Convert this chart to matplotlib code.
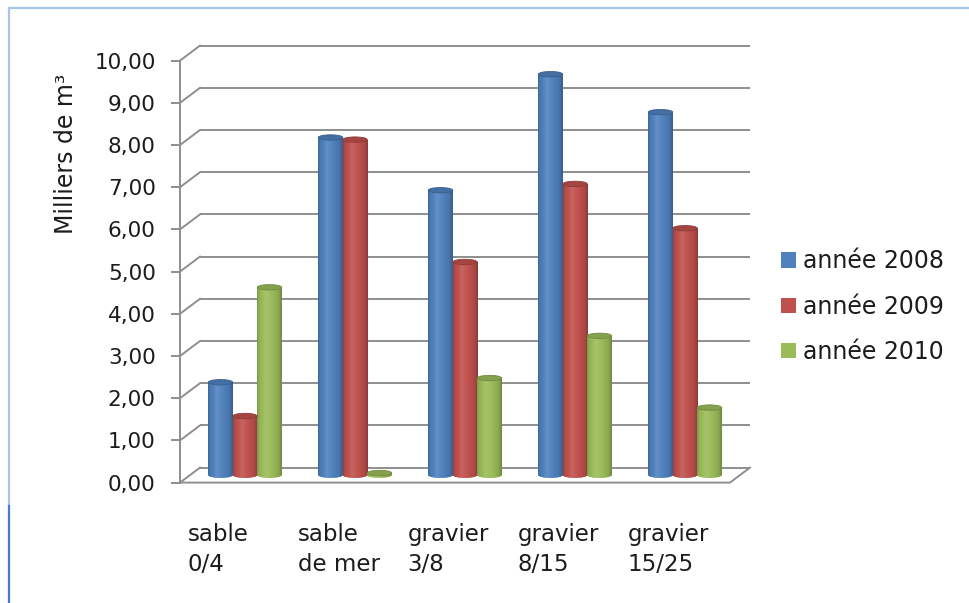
import numpy as np
import matplotlib
matplotlib.use("Agg")
import matplotlib.pyplot as plt
from matplotlib.patches import Ellipse, Patch
from matplotlib.lines import Line2D
from matplotlib.colors import to_rgb
from matplotlib.ticker import FuncFormatter
from matplotlib import transforms

# ---- data -------------------------------------------------------------
categories = ["sable\n0/4", "sable\nde mer", "gravier\n3/8", "gravier\n8/15", "gravier\n15/25"]
series_names = ["année 2008", "année 2009", "année 2010"]
values_2008 = [2.2, 8.0, 6.75, 9.5, 8.6]
values_2009 = [1.4, 7.95, 5.05, 6.9, 5.85]
values_2010 = [4.45, 0.05, 2.3, 3.3, 1.6]
y_ticks = [0, 1, 2, 3, 4, 5, 6, 7, 8, 9, 10]
y_label = "Milliers de m³"

series_values = [values_2008, values_2009, values_2010]
series_colors = ["#4F81BD", "#C0504D", "#9BBB59"]

# ---- figure / layout (pixel geometry of the pseudo-3D box) ------------
W, H, DPI = 970, 603, 100
fig = plt.figure(figsize=(W / DPI, H / DPI), dpi=DPI)
fig.patch.set_facecolor("white")

X0_PX, X_SCALE = 180.0, 110.0     # front-left corner, pixels per category
Y0_PX, Y_SCALE = 482.6, 42.2      # floor line, pixels per unit
xlim = (-0.05, 5.25)
ylim = (-0.1, 10.5)
ax_left = (X0_PX + xlim[0] * X_SCALE) / W
ax_bottom = (H - (Y0_PX - ylim[0] * Y_SCALE)) / H
ax_w = (xlim[1] - xlim[0]) * X_SCALE / W
ax_h = (ylim[1] - ylim[0]) * Y_SCALE / H
ax = fig.add_axes([ax_left, ax_bottom, ax_w, ax_h])
ax.set_facecolor("none")

n = len(categories)
DX = 20.0 / X_SCALE   # depth shift to the back wall (x)
DY = 15.0 / Y_SCALE   # depth shift to the back wall (y)
MX, MY = DX / 2, DY / 2  # bars stand half way into the box

GRID = "#8e8e8e"
TEXT = "#1c1c1c"

# back wall gridlines and side-wall diagonals
for v in y_ticks:
    ax.plot([DX, n + DX], [v + DY, v + DY], color=GRID, lw=1.4,
            solid_capstyle="butt", zorder=1, clip_on=False)
    ax.plot([0, DX], [v, v + DY], color=GRID, lw=1.4, zorder=1, clip_on=False)

# floor outline
ax.plot([0, n, n + DX], [0, 0, DY], color=GRID, lw=1.4, zorder=6, clip_on=False)

# front value axis
ax.spines["left"].set_position(("data", 0))
ax.spines["left"].set_bounds(0, 10)
ax.spines["left"].set_color(GRID)
ax.spines["left"].set_linewidth(1.4)
for s in ("right", "top", "bottom"):
    ax.spines[s].set_visible(False)
ax.set_yticks(y_ticks)
ax.yaxis.set_major_formatter(FuncFormatter(lambda v, p: f"{v:.2f}".replace(".", ",")))
ax.tick_params(axis="y", length=6.5, width=1.4, color=GRID, pad=11,
               labelsize=15.5, labelcolor=TEXT)
ax.set_xticks([])


def shade(rgb, s):
    rgb = np.asarray(rgb)
    if s >= 1:
        return rgb + (1 - rgb) * (s - 1) * 2.0
    return rgb * s


t = np.linspace(0, 1, 96)
profile = np.interp(t, [0.0, 0.08, 0.35, 0.62, 0.86, 1.0],
                       [0.80, 0.94, 1.06, 1.0, 0.90, 0.72])

bar_w = 24.5 / X_SCALE
cap_h = 5.4 / Y_SCALE
centers = np.arange(n) + 0.5 + MX

for si, (vals, col) in enumerate(zip(series_values, series_colors)):
    base = to_rgb(col)
    grad = np.array([[shade(base, s) for s in profile]])
    grad = np.clip(grad, 0, 1)
    xc = centers + (si - 1) * bar_w
    bars = ax.bar(xc, vals, width=bar_w, bottom=MY, color=col, linewidth=0, zorder=3)
    for rect, x, v in zip(bars, xc, vals):
        x0, x1 = x - bar_w / 2, x + bar_w / 2
        im = ax.imshow(grad, extent=(x0, x1, MY, MY + v), aspect="auto",
                       interpolation="bilinear", zorder=3.1)
        im.set_clip_path(rect)
        bot = Ellipse((x, MY), bar_w, cap_h, facecolor=col, linewidth=0, zorder=3)
        ax.add_patch(bot)
        im2 = ax.imshow(grad, extent=(x0, x1, MY - cap_h / 2, MY + cap_h / 2),
                        aspect="auto", interpolation="bilinear", zorder=3.05)
        im2.set_clip_path(bot)
        top = Ellipse((x, MY + v), bar_w, cap_h, facecolor=shade(base, 0.86),
                      edgecolor=shade(base, 0.74), linewidth=0.6, zorder=4)
        ax.add_patch(top)

ax.set_xlim(*xlim)
ax.set_ylim(*ylim)

# category labels below the floor
lab_tr = transforms.blended_transform_factory(ax.transData, fig.transFigure)
for i, lab in enumerate(categories):
    ax.text(i + 0.07, 1 - 523 / H, lab, transform=lab_tr, ha="left", va="top",
            fontsize=16.5, color=TEXT, linespacing=1.4, multialignment="left")

fig.text(66 / W, 1 - 154 / H, y_label, rotation=90, ha="center", va="center",
         fontsize=17, color=TEXT)

handles = [Patch(facecolor=c, edgecolor="none") for c in series_colors]
fig.legend(handles, series_names, loc="center left",
           bbox_to_anchor=(781 / W, 1 - 306.7 / H), frameon=False, fontsize=17,
           handlelength=0.62, handleheight=0.62, handletextpad=0.3,
           labelspacing=0.9, borderpad=0, borderaxespad=0, labelcolor=TEXT)

# chart-area frame
fig.add_artist(Line2D([9 / W, 1], [1 - 8 / H, 1 - 8 / H], transform=fig.transFigure,
                      color="#a9c4e4", lw=1.6))
fig.add_artist(Line2D([9 / W, 9 / W], [1 - 8 / H, 1 - 506 / H], transform=fig.transFigure,
                      color="#a9c4e4", lw=1.6))
fig.add_artist(Line2D([9 / W, 9 / W], [1 - 506 / H, 0], transform=fig.transFigure,
                      color="#4a7bc8", lw=1.6))

fig.savefig("out.png", dpi=DPI)
